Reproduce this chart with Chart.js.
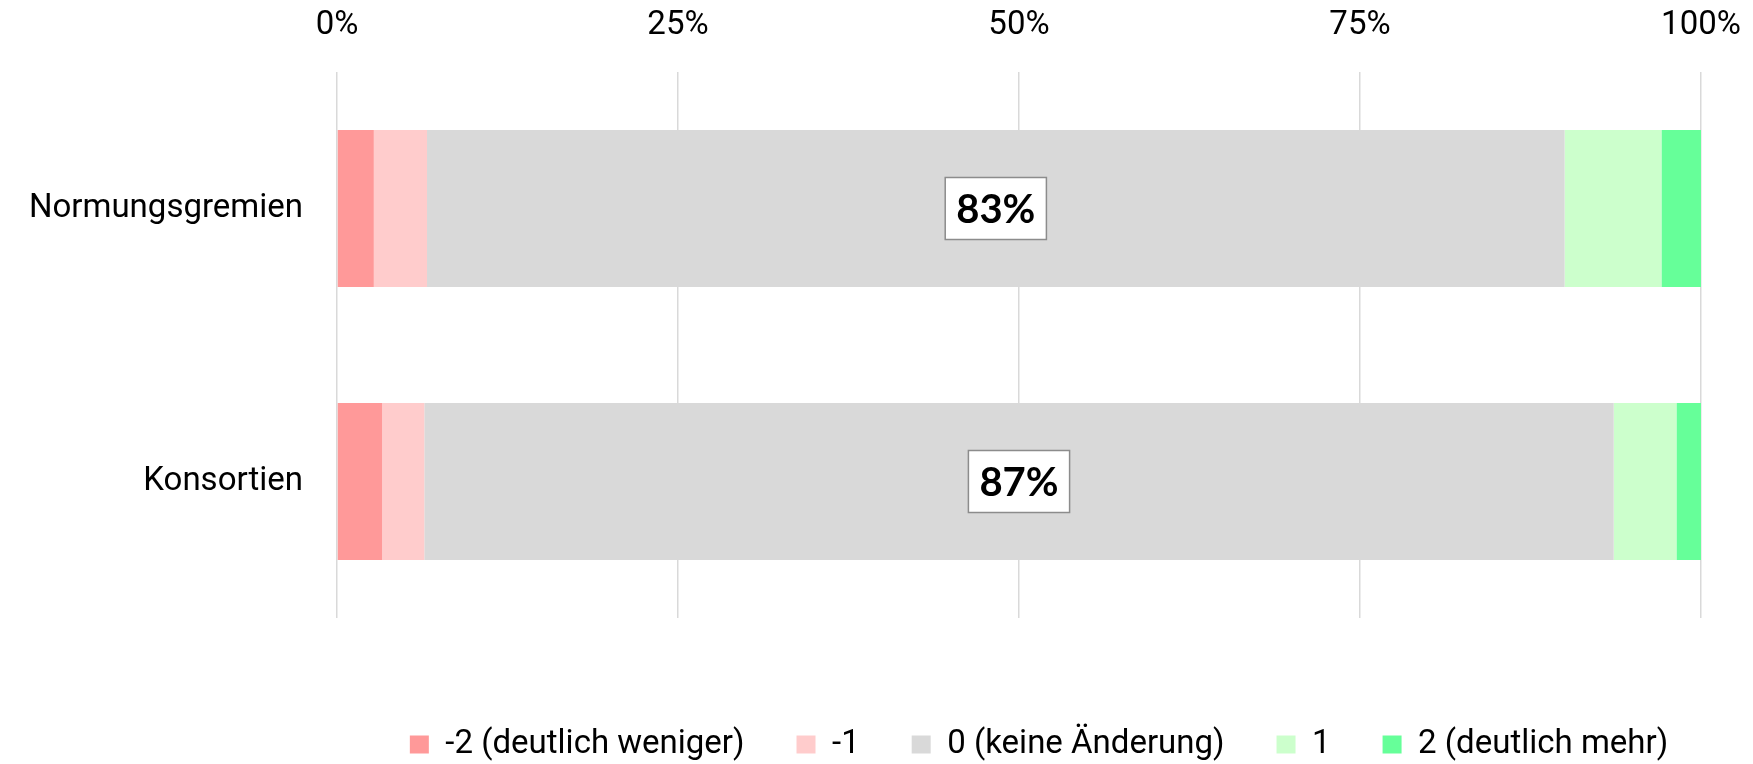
<!DOCTYPE html>
<html>
<head>
<meta charset="utf-8">
<script src="https://cdn.jsdelivr.net/npm/chart.js@4/dist/chart.umd.min.js"></script>
<style>
  html, body { margin: 0; padding: 0; background: #fff; }
  #wrap { width: 1753px; height: 764px; }
</style>
</head>
<body>
<div id="wrap"><canvas id="GraficoAenderung"></canvas></div>
<script>
// Kategorien und Anteile (in %) je Antwortstufe
var kategorien = ["Normungsgremien", "Konsortien"];
var stufen = ["-2 (deutlich weniger)", "-1", "0 (keine Änderung)", "1", "2 (deutlich mehr)"];
var minus2 = [2.7, 3.3];
var minus1 = [3.9, 3.1];
var null0 = [83.4, 87.2];
var plus1 = [7.1, 4.6];
var plus2 = [2.9, 1.8];
var achsenTicks = [0, 25, 50, 75, 100];
var farben = ["#ff9999", "#ffcccc", "#d9d9d9", "#ccffcc", "#66ff99"];

var werte = [minus2, minus1, null0, plus1, plus2];

// Beschriftung nur fuer "0 (keine Änderung)", als Kasten in der Mitte des Segments
var wertKasten = {
    id: 'wertKasten',
    afterDatasetsDraw: function (chart) {
        var ctx = chart.ctx;
        var meta = chart.getDatasetMeta(2);
        ctx.save();
        ctx.font = "bold 40px Lato";
        ctx.textAlign = "center";
        ctx.textBaseline = "middle";
        meta.data.forEach(function (bar, i) {
            var text = Math.round(null0[i]) + "%";
            var p = bar.getCenterPoint();
            var w = ctx.measureText(text).width + 22;
            var h = 62;
            ctx.fillStyle = "#ffffff";
            ctx.fillRect(p.x - w / 2, p.y - h / 2, w, h);
            ctx.strokeStyle = "#8c8c8c";
            ctx.lineWidth = 1.5;
            ctx.strokeRect(p.x - w / 2, p.y - h / 2, w, h);
            ctx.fillStyle = "#000000";
            ctx.fillText(text, p.x, p.y + 2);
        });
        ctx.restore();
    }
};

// Legende etwas nach rechts schieben (wie im Original)
var legendeVersatz = {
    id: 'legendeVersatz',
    afterLayout: function (chart) {
        chart.legend.left += 20;
        chart.legend.right += 20;
    }
};

new Chart(document.getElementById("GraficoAenderung"), {
    type: 'bar',
    data: {
        labels: kategorien,
        datasets: stufen.map(function (s, i) {
            return {
                label: s,
                data: werte[i],
                backgroundColor: farben[i],
                borderWidth: 0,
                categoryPercentage: 1,
                barPercentage: 0.575
            };
        })
    },
    options: {
        indexAxis: 'y',
        responsive: true,
        maintainAspectRatio: false,
        animation: false,
        layout: {
            padding: { left: 0, right: 52, top: 0, bottom: -7 }
        },
        scales: {
            x: {
                position: 'top',
                stacked: true,
                min: 0,
                max: 100,
                afterBuildTicks: function (scale) {
                    scale.ticks = achsenTicks.map(function (v) { return { value: v }; });
                },
                afterFit: function (scale) { scale.height = 72; },
                border: { display: false },
                grid: { color: "#d9d9d9", lineWidth: 1.5, drawTicks: true, tickLength: 22, tickColor: "rgba(0,0,0,0)" },
                ticks: {
                    padding: 4,
                    color: "#000000",
                    font: { family: "Roboto", size: 33 },
                    maxRotation: 0,
                    callback: function (v) { return v + "%"; }
                }
            },
            y: {
                stacked: true,
                afterFit: function (scale) { scale.width = 337; },
                border: { display: false },
                grid: { display: false, drawTicks: false },
                ticks: {
                    padding: 34,
                    color: "#000000",
                    font: { family: "Roboto", size: 33 }
                }
            }
        },
        plugins: {
            tooltip: { enabled: false },
            legend: {
                position: 'bottom',
                fullSize: false,
                title: {
                    display: true,
                    text: " ",
                    font: { size: 10, lineHeight: 1 },
                    padding: { top: 24, bottom: 24 }
                },
                labels: {
                    boxWidth: 19,
                    boxHeight: 18,
                    padding: 52,
                    color: "#000000",
                    font: { family: "Roboto", size: 33 }
                }
            }
        }
    },
    plugins: [wertKasten, legendeVersatz]
});
</script>
</body>
</html>
